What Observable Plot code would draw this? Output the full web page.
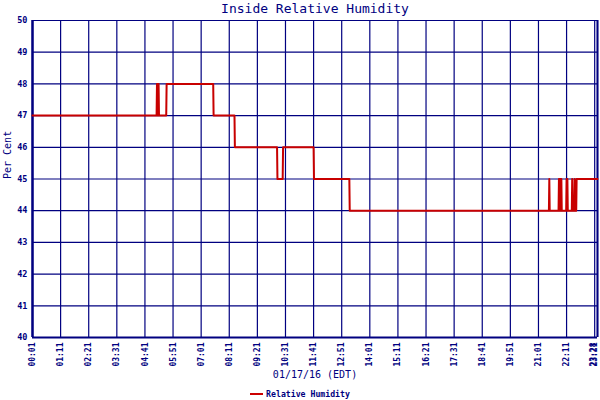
<!DOCTYPE html>
<html>
<head>
<meta charset="utf-8">
<script src="https://cdn.jsdelivr.net/npm/d3@7"></script>
<script src="https://cdn.jsdelivr.net/npm/@observablehq/plot@0.6"></script>
<style>
  html, body { margin: 0; padding: 0; background: #fff; }
  #wrap { width: 600px; height: 400px; overflow: hidden; font-family: "DejaVu Sans Mono", monospace; color: #000080; }
  #title { height: 12px; line-height: 18px; font-size: 13px; padding-left: 32px; padding-right: 2px; text-align: center; white-space: nowrap; overflow: visible; position: relative; z-index: 1; }
  #legend { height: 12px; line-height: 12px; font-size: 8.2px; font-weight: bold; text-align: center; white-space: nowrap; }
  #legend .sw { display: inline-block; width: 13px; height: 2px; background: #cc0000; vertical-align: middle; margin-right: 3px; position: relative; top: -1px; }
  svg { display: block; }
</style>
</head>
<body>
<div id="wrap">
  <div id="title">Inside Relative Humidity</div>
  <div id="chart"></div>
  <div id="legend"><span class="sw"></span>Relative Humidity</div>
</div>
<script>
// Time stamps (HH:MM) and relative humidity values (%)
const times = ["00:01","05:10","05:11","05:12","05:13","05:14","05:15","05:16","05:34","05:35",
  "07:31","07:32","08:24","08:25","10:10","10:11","10:24","10:25","11:41","11:42",
  "13:10","13:11","21:27","21:28","21:29","21:51","21:52","21:53","21:54","21:55",
  "21:56","21:57","21:58","21:59","22:10","22:11","22:12","22:13","22:14","22:24",
  "22:25","22:26","22:30","22:31","22:32","22:35","22:36","23:28"];
const values = [47,47,48,47,48,47,48,47,47,48,
  48,47,47,46,46,45,45,46,46,45,
  45,44,44,45,44,44,45,44,45,44,
  45,44,45,44,44,45,44,45,44,44,
  45,44,44,45,44,44,45,45];

const xTickLabels = ["00:01","01:11","02:21","03:31","04:41","05:51","07:01","08:11","09:21","10:31",
  "11:41","12:51","14:01","15:11","16:21","17:31","18:41","19:51","21:01","22:11","23:21","23:28"];
const yTicks = [40,41,42,43,44,45,46,47,48,49,50];

const toMin = s => { const [h, m] = s.split(":").map(Number); return h * 60 + m; };
const fmt = m => String(Math.floor(m / 60)).padStart(2, "0") + ":" + String(m % 60).padStart(2, "0");

const data = times.map((t, i) => ({t: toMin(t), v: values[i]}));
const xTicks = xTickLabels.map(toMin);
const lastTick = xTicks[xTicks.length - 1];
const navy = "#000080";

const chart = Plot.plot({
  width: 600,
  height: 376,
  marginLeft: 32,
  marginRight: 3,
  marginTop: 8,
  marginBottom: 51,
  style: {background: "white", color: navy, fontFamily: "DejaVu Sans Mono, monospace"},
  x: {domain: [xTicks[0], lastTick]},
  y: {domain: [40, 50]},
  marks: [
    Plot.ruleY(yTicks, {stroke: navy, strokeWidth: 1.2}),
    Plot.ruleX(xTicks, {stroke: navy, strokeWidth: 1.2}),
    Plot.ruleX([xTicks[0]], {stroke: navy, strokeWidth: 2.5}),
    Plot.ruleX([lastTick], {stroke: navy, strokeWidth: 2}),
    Plot.ruleY([40], {stroke: navy, strokeWidth: 2}),
    Plot.line(data, {x: "t", y: "v", stroke: "#c80000", strokeWidth: 2}),
    Plot.axisX({ticks: xTicks.slice(0, -1), tickFormat: fmt, tickRotate: -90, tickSize: 0, tickPadding: 5,
      fontSize: 8, fontWeight: "bold", label: null}),
    Plot.text([lastTick], {x: d => d, frameAnchor: "bottom", text: fmt, rotate: -90, textAnchor: "end",
      dy: 5, dx: -1.5, fontSize: 8, fontWeight: "bold", fill: navy}),
    Plot.axisY({ticks: yTicks, tickSize: 0, tickPadding: 5, fontSize: 8.5, fontWeight: "bold", label: null}),
    Plot.text(["01/17/16 (EDT)"], {frameAnchor: "bottom", dy: 40.5, fontSize: 10, fill: navy}),
    Plot.text(["Per Cent"], {frameAnchor: "left", dx: -24.5, rotate: -90, fontSize: 10, fill: navy})
  ]
});
document.getElementById("chart").appendChild(chart);
</script>
</body>
</html>
